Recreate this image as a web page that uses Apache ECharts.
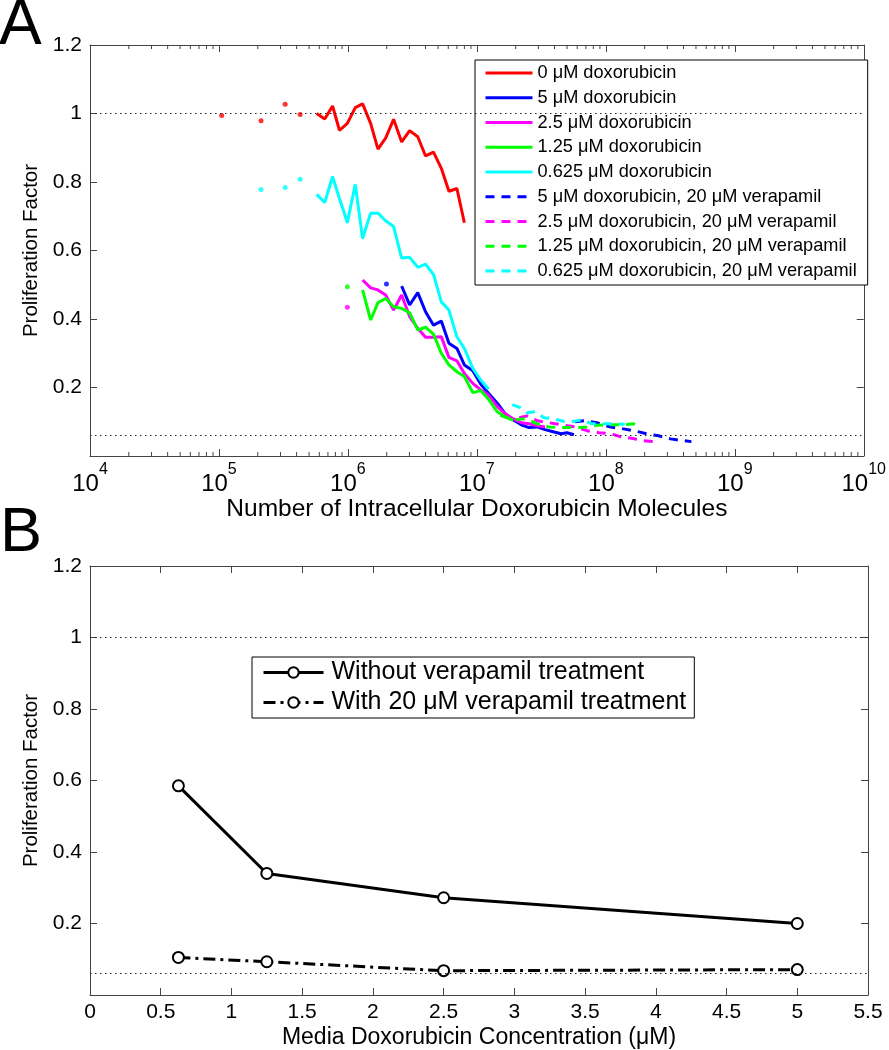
<!DOCTYPE html>
<html><head><meta charset="utf-8">
<script src="https://cdn.jsdelivr.net/npm/echarts@6/dist/echarts.min.js"></script>
<style>html,body{margin:0;padding:0;background:#fff}#c{width:889px;height:1050px}</style>
</head><body><div id="c"></div>
<script>
const FONT = 'Liberation Sans, Arial, Helvetica, sans-serif';

// ---------- Panel A data: [molecules, proliferation factor] ----------
const dox0 = [[5.73e5,1.000],[6.61e5,0.984],[7.60e5,1.022],[8.6e5,0.951],[9.9e5,0.971],[1.14e6,1.017],[1.30e6,1.028],[1.50e6,0.971],[1.71e6,0.896],[1.96e6,0.928],[2.26e6,0.983],[2.61e6,0.917],[3.01e6,0.950],[3.48e6,0.932],[4.0e6,0.876],[4.61e6,0.887],[5.3e6,0.840],[6.07e6,0.773],[7.0e6,0.781],[8.0e6,0.681]];
const dox5 = [[2.61e6,0.496],[3.01e6,0.441],[3.48e6,0.477],[4.0e6,0.421],[4.61e6,0.382],[5.3e6,0.394],[6.07e6,0.329],[7.0e6,0.314],[8.0e6,0.266],[9.3e6,0.249],[1.07e7,0.210],[1.23e7,0.183],[1.44e7,0.154],[1.66e7,0.123],[1.91e7,0.106],[2.21e7,0.091],[2.54e7,0.083],[2.93e7,0.085],[3.38e7,0.077],[3.90e7,0.071],[4.50e7,0.065],[5.0e7,0.068],[5.66e7,0.062]];
const dox2_5 = [[1.30e6,0.514],[1.50e6,0.491],[1.71e6,0.485],[1.96e6,0.470],[2.26e6,0.426],[2.61e6,0.470],[3.01e6,0.407],[3.48e6,0.373],[4.0e6,0.347],[4.61e6,0.347],[5.3e6,0.348],[6.07e6,0.288],[7.0e6,0.278],[8.0e6,0.241],[9.3e6,0.212],[1.07e7,0.193],[1.23e7,0.178],[1.44e7,0.144],[1.66e7,0.123],[1.91e7,0.109],[2.21e7,0.097],[2.54e7,0.094],[2.93e7,0.088],[3.38e7,0.085]];
const dox1_25 = [[1.30e6,0.485],[1.50e6,0.397],[1.71e6,0.448],[1.96e6,0.460],[2.26e6,0.436],[2.61e6,0.431],[3.01e6,0.418],[3.48e6,0.368],[4.0e6,0.376],[4.61e6,0.356],[5.3e6,0.300],[6.07e6,0.266],[7.0e6,0.246],[8.0e6,0.232],[9.3e6,0.185],[1.07e7,0.191],[1.23e7,0.166],[1.44e7,0.129],[1.66e7,0.114],[1.91e7,0.104]];
const dox0_625 = [[5.73e5,0.764],[6.61e5,0.740],[7.60e5,0.816],[8.6e5,0.752],[9.9e5,0.681],[1.14e6,0.793],[1.30e6,0.635],[1.50e6,0.709],[1.71e6,0.709],[1.96e6,0.687],[2.26e6,0.670],[2.61e6,0.578],[3.01e6,0.580],[3.48e6,0.551],[4.0e6,0.560],[4.61e6,0.530],[5.3e6,0.450],[6.07e6,0.426],[7.0e6,0.348],[8.0e6,0.314],[9.3e6,0.256],[1.07e7,0.222],[1.23e7,0.195]];
const dox5Ver = [[5.77e7,0.100],[6.89e7,0.103],[8.53e7,0.097],[1.07e8,0.085],[1.33e8,0.080],[1.64e8,0.074],[2.07e8,0.065],[2.56e8,0.059],[3.18e8,0.050],[3.94e8,0.045],[4.61e8,0.042]];
const dox2_5Ver = [[2.13e7,0.112],[2.45e7,0.117],[2.93e7,0.103],[3.63e7,0.097],[4.57e7,0.091],[5.77e7,0.085],[7.13e7,0.074],[8.83e7,0.068],[1.09e8,0.065],[1.31e8,0.056],[1.62e8,0.051],[1.93e8,0.045],[2.31e8,0.042]];
const dox1_25Ver = [[1.52e7,0.118],[1.72e7,0.112],[1.98e7,0.106],[2.37e7,0.109],[2.93e7,0.094],[3.63e7,0.085],[4.57e7,0.083],[5.77e7,0.083],[7.13e7,0.085],[8.53e7,0.090],[1.05e8,0.091],[1.33e8,0.091],[1.64e8,0.094],[1.77e8,0.085]];
const dox0_625Ver = [[1.88e7,0.150],[2.17e7,0.141],[2.45e7,0.126],[2.83e7,0.129],[3.32e7,0.112],[3.83e7,0.109],[4.74e7,0.101],[5.66e7,0.101],[6.53e7,0.106],[7.80e7,0.094],[9.66e7,0.094],[1.15e8,0.094],[1.40e8,0.093]];
// isolated single-bin points
const dots0 = [[1.05e5,0.994],[2.12e5,0.979],[3.26e5,1.027],[4.26e5,0.997]];
const dots0_625 = [[2.12e5,0.778],[3.26e5,0.784],[4.26e5,0.808]];
const dots2_5 = [[9.9e5,0.434]];
const dots1_25 = [[9.9e5,0.494]];
const dots5 = [[1.99e6,0.502]];
const refLevels = [1, 0.061];

// axis decoration: log minor tick decades and multipliers
const minorDecades = [1e4,1e5,1e6,1e7,1e8,1e9];
const minorMult = [2,3,4,5,6,7,8,9];

// ---------- Panel B data ----------
const concB = [0.625, 1.25, 2.5, 5];
const withoutVer = [0.585, 0.340, 0.272, 0.200];
const withVer = [0.105, 0.093, 0.068, 0.071];

const namesA = ['0 μM doxorubicin','5 μM doxorubicin','2.5 μM doxorubicin','1.25 μM doxorubicin','0.625 μM doxorubicin',
 '5 μM doxorubicin, 20 μM verapamil','2.5 μM doxorubicin, 20 μM verapamil','1.25 μM doxorubicin, 20 μM verapamil','0.625 μM doxorubicin, 20 μM verapamil'];
const namesB = ['Without verapamil treatment','With 20 μM verapamil treatment'];

const minorTicks = [];
minorDecades.forEach(d => minorMult.forEach(m => minorTicks.push([d*m, 0])));

const AX = '#444';
const refLine = {
  silent: true, symbol: 'none', label: {show: false}, emphasis: {disabled: true},
  lineStyle: {color: '#222', type: [1.5, 3.5], width: 1.2},
  data: refLevels.map(v => ({yAxis: v}))
};

function lineA(name, data, color, dashed, withRef) {
  const s = {
    type: 'line', name, data, xAxisIndex: 0, yAxisIndex: 0,
    symbol: 'none', showSymbol: false, smooth: false,
    lineStyle: {color, width: 3, type: dashed ? [9, 7] : 'solid'},
    itemStyle: {color}, emphasis: {disabled: true}, z: 3
  };
  if (withRef) s.markLine = refLine;
  return s;
}
function dotsA(name, data, color) {
  return {type: 'scatter', name, data, xAxisIndex: 0, yAxisIndex: 0,
    symbol: 'circle', symbolSize: 5, itemStyle: {color}, emphasis: {disabled: true}, z: 3};
}

const chart = echarts.init(document.getElementById('c'), null, {renderer: 'canvas'});
const tickLbl = {fontFamily: FONT, fontSize: 21, color: '#000'};
const axLine = {onZero: false, lineStyle: {color: AX}};
const axTick = {show: true, inside: true, length: 7, lineStyle: {color: AX}};

const option = {
  animation: false,
  backgroundColor: '#fff',
  textStyle: {fontFamily: FONT},
  graphic: [
    {type: 'text', left: -1, top: -6, style: {text: 'A', font: 'normal 64px ' + FONT, fill: '#000'}},
    {type: 'text', left: 0, top: 502, style: {text: 'B', font: 'normal 63px ' + FONT, fill: '#000'}}
  ],
  grid: [
    {left: 90, top: 45, width: 778, height: 411},
    {left: 90, top: 566, width: 778, height: 431}
  ],
  xAxis: [
    {type: 'log', logBase: 10, gridIndex: 0, min: 1e4, max: 1e10, splitNumber: 6,
     name: 'Number of Intracellular Doxorubicin Molecules', nameLocation: 'middle', nameGap: 39,
     nameTextStyle: {fontFamily: FONT, fontSize: 24.5, color: '#000'},
     axisLine: axLine, axisTick: axTick, splitLine: {show: false}, minorTick: {show: false},
     axisLabel: {margin: 6,
       formatter: v => '{b|10}{e|' + Math.round(Math.log10(v)) + '}',
       rich: {b: {fontFamily: FONT, fontSize: 24, lineHeight: 34, verticalAlign: 'bottom', color: '#000'},
              e: {fontFamily: FONT, fontSize: 16, lineHeight: 8, verticalAlign: 'top', color: '#000'}}}},
    {type: 'log', logBase: 10, gridIndex: 0, min: 1e4, max: 1e10, splitNumber: 6, position: 'top',
     axisLine: axLine, axisTick: axTick, axisLabel: {show: false}, splitLine: {show: false}},
    {type: 'value', gridIndex: 1, min: 0, max: 5.5, interval: 0.5,
     name: 'Media Doxorubicin Concentration (μM)', nameLocation: 'middle', nameGap: 31,
     nameTextStyle: {fontFamily: FONT, fontSize: 23, color: '#000'},
     axisLine: axLine, axisTick: axTick, splitLine: {show: false}, axisLabel: Object.assign({margin: 7}, tickLbl)},
    {type: 'value', gridIndex: 1, min: 0, max: 5.5, interval: 0.5, position: 'top',
     axisLine: axLine, axisTick: axTick, axisLabel: {show: false}, splitLine: {show: false}}
  ],
  yAxis: [
    {type: 'value', gridIndex: 0, min: 0, max: 1.2, interval: 0.2,
     name: 'Proliferation Factor', nameLocation: 'middle', nameGap: 43,
     nameTextStyle: {fontFamily: FONT, fontSize: 20.5, color: '#000'},
     axisLine: Object.assign({show: true}, axLine), axisTick: axTick,
     splitLine: {show: false}, axisLabel: Object.assign({margin: 8, showMinLabel: false}, tickLbl)},
    {type: 'value', gridIndex: 0, min: 0, max: 1.2, interval: 0.2, position: 'right',
     axisLine: Object.assign({show: true}, axLine), axisTick: axTick, axisLabel: {show: false}, splitLine: {show: false}},
    {type: 'value', gridIndex: 1, min: 0, max: 1.2, interval: 0.2,
     name: 'Proliferation Factor', nameLocation: 'middle', nameGap: 43,
     nameTextStyle: {fontFamily: FONT, fontSize: 20.5, color: '#000'},
     axisLine: Object.assign({show: true}, axLine), axisTick: axTick,
     splitLine: {show: false}, axisLabel: Object.assign({margin: 8, showMinLabel: false}, tickLbl)},
    {type: 'value', gridIndex: 1, min: 0, max: 1.2, interval: 0.2, position: 'right',
     axisLine: Object.assign({show: true}, axLine), axisTick: axTick, axisLabel: {show: false}, splitLine: {show: false}}
  ],
  legend: [
    {orient: 'vertical', left: 475, top: 60, padding: [4, 11, 5, 9], itemWidth: 47, itemHeight: 18, itemGap: 6.75,
     borderColor: '#000', borderWidth: 1, backgroundColor: '#fff', selectedMode: false,
     itemStyle: {opacity: 0}, lineStyle: {width: 3},
     textStyle: {fontFamily: FONT, fontSize: 18.2, color: '#000'}, data: namesA},
    {orient: 'vertical', left: 252, top: 657, padding: [3, 8, 3, 10], itemWidth: 60, itemHeight: 13, itemGap: 5,
     borderColor: '#000', borderWidth: 1, backgroundColor: '#fff', selectedMode: false,
     lineStyle: {width: 3}, itemStyle: {borderWidth: 3},
     textStyle: {fontFamily: FONT, fontSize: 25, lineHeight: 25, padding: [0, 0, 0, 3], color: '#000'}, data: namesB}
  ],
  series: [
    lineA(namesA[0], dox0, '#ff0000', false, true),
    lineA(namesA[1], dox5, '#0000ff', false),
    lineA(namesA[2], dox2_5, '#ff00ff', false),
    lineA(namesA[3], dox1_25, '#00ff00', false),
    lineA(namesA[4], dox0_625, '#00ffff', false),
    lineA(namesA[5], dox5Ver, '#0000ff', true),
    lineA(namesA[6], dox2_5Ver, '#ff00ff', true),
    lineA(namesA[7], dox1_25Ver, '#00ff00', true),
    lineA(namesA[8], dox0_625Ver, '#00ffff', true),
    dotsA('dots0', dots0, '#ff0000'),
    dotsA('dots0625', dots0_625, '#00ffff'),
    dotsA('dots25', dots2_5, '#ff00ff'),
    dotsA('dots125', dots1_25, '#00ff00'),
    dotsA('dots5', dots5, '#0000ff'),
    {type: 'custom', name: 'minorTicks', xAxisIndex: 0, yAxisIndex: 0, data: minorTicks, silent: true, z: 5,
     renderItem: function (params, api) {
       const v = api.value(0);
       const pb = api.coord([v, 0]);
       const pt = api.coord([v, 1.2]);
       const st = {stroke: AX, lineWidth: 1};
       return {type: 'group', children: [
         {type: 'line', shape: {x1: pb[0], y1: pb[1], x2: pb[0], y2: pb[1] - 4}, style: st},
         {type: 'line', shape: {x1: pt[0], y1: pt[1], x2: pt[0], y2: pt[1] + 4}, style: st}
       ]};
     }},
    {type: 'line', name: namesB[0], xAxisIndex: 2, yAxisIndex: 2,
     data: concB.map((c, i) => [c, withoutVer[i]]),
     symbol: 'emptyCircle', symbolSize: 11, showSymbol: true,
     lineStyle: {color: '#000', width: 3}, itemStyle: {color: '#000', borderColor: '#000', borderWidth: 3.5},
     emphasis: {disabled: true}, markLine: refLine},
    {type: 'line', name: namesB[1], xAxisIndex: 2, yAxisIndex: 2,
     data: concB.map((c, i) => [c, withVer[i]]),
     symbol: 'emptyCircle', symbolSize: 11, showSymbol: true,
     lineStyle: {color: '#000', width: 3, type: [12, 5, 3, 5]}, itemStyle: {color: '#000', borderColor: '#000', borderWidth: 3.5},
     emphasis: {disabled: true}}
  ]
};
chart.setOption(option);
</script></body></html>
